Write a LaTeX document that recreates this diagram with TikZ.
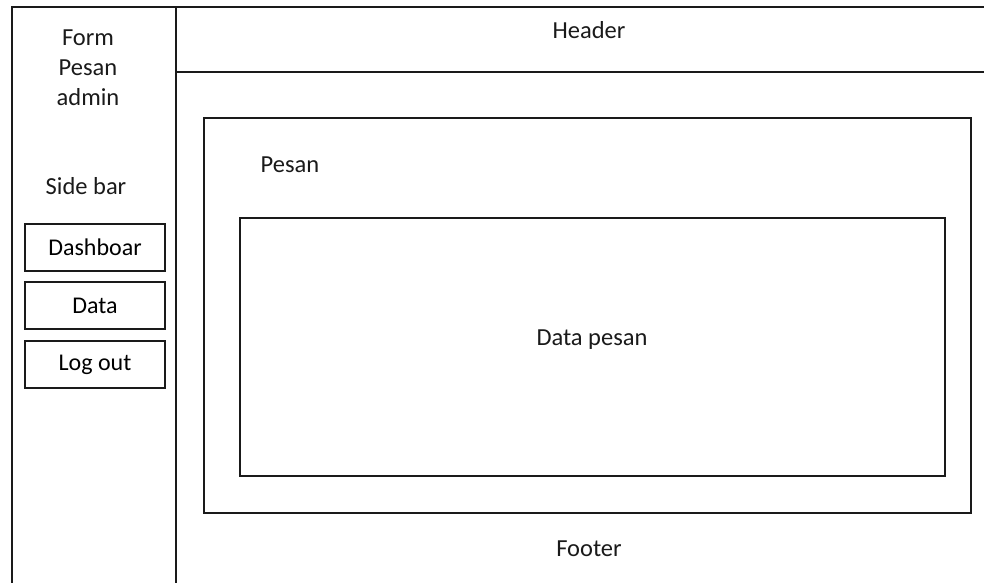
\documentclass[tikz,border=0pt]{standalone}
\usepackage{fontspec}
\setmainfont{Carlito}
\usetikzlibrary{positioning}
\definecolor{Ink}{HTML}{1A1A1A}
\tikzset{
 frame/.style={draw=Ink, line width=1.5pt},
 box/.style={draw=Ink, line width=1.5pt, fill=white, inner sep=0pt},
 btn/.style={box, minimum width=140pt, minimum height=47pt, font=\fontsize{24}{28}\selectfont},
 label/.style={text=Ink, inner sep=0pt, font=\fontsize{24.5}{30}\selectfont, align=center}
}
\begin{document}
\begin{tikzpicture}[x=1pt,y=-1pt]
\useasboundingbox (0,0) rectangle (984,583);
% page frame
\draw[frame] (984,7) -- (12,7) -- (12,583);
\draw[frame] (176,7) -- (176,583);
\draw[frame] (176,72) -- (984,72);
% sidebar
\node[label] (title) at (88,68) {Form\\Pesan\\admin};
\node[label] (sidebar) at (86,186) {Side bar};
\node[btn] (dash) at (95,247.5) {Dashboar};
\node[btn] (data) at (95,305.5) {Data};
\node[btn] (logout) at (95,364.5) {Log out};
% main area
\node[label] (header) at (589,30) {Header};
\node[box, minimum width=767pt, minimum height=395pt] (content) at (587.5,315.5) {};
\node[label] (pesan) at (290,165) {Pesan};
\node[box, minimum width=705pt, minimum height=258pt] (tabel) at (592.5,347) {};
\node[label] (datapesan) at (592,340) {Data pesan};
\node[label] (footer) at (589,549) {Footer};
\end{tikzpicture}
\end{document}
